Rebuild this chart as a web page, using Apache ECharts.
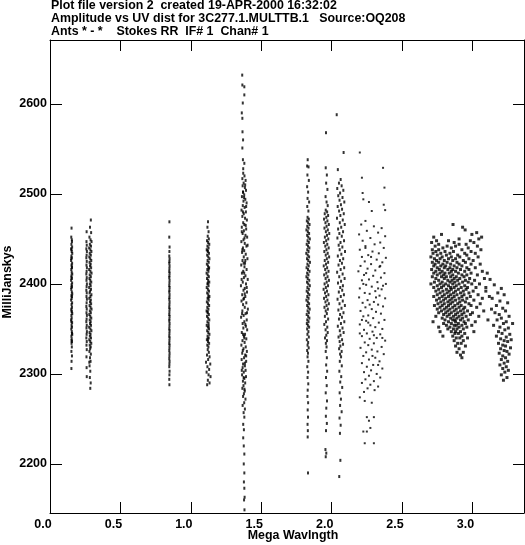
<!DOCTYPE html>
<html><head><meta charset="utf-8">
<script src="https://cdn.jsdelivr.net/npm/echarts@6/dist/echarts.min.js"></script>
<style>html,body{margin:0;padding:0;background:#fff}#c{width:525px;height:545px}</style>
</head><body><div id="c"></div>
<script>
const titleLines = [
  'Plot file version 2  created 19-APR-2000 16:32:02',
  'Amplitude vs UV dist for 3C277.1.MULTTB.1   Source:OQ208',
  'Ants * - *    Stokes RR  IF# 1  Chan# 1'
];
const xAxisName = 'Mega Wavlngth';
const yAxisName = 'MilliJanskys';
const xTicks = [0, 0.5, 1.0, 1.5, 2.0, 2.5, 3.0];
const yTicks = [2200, 2300, 2400, 2500, 2600];
const xRange = [0, 3.366];
const yRange = [2145.5, 2671];

const col1 = [[0.153,2462],[0.151,2452],[0.156,2447],[0.152,2444],[0.157,2441],[0.150,2439],[0.154,2436],[0.158,2434],[0.152,2431],[0.155,2429],[0.150,2426],[0.157,2423],[0.153,2421],[0.156,2418],[0.151,2416],[0.154,2413],[0.158,2411],[0.152,2409],[0.155,2406],[0.150,2404],[0.157,2401],[0.153,2399],[0.156,2397],[0.151,2394],[0.155,2391],[0.158,2389],[0.152,2387],[0.154,2384],[0.150,2382],[0.157,2379],[0.153,2377],[0.156,2374],[0.151,2372],[0.155,2369],[0.158,2367],[0.152,2365],[0.154,2362],[0.150,2360],[0.157,2357],[0.153,2354],[0.156,2352],[0.151,2350],[0.155,2347],[0.158,2344],[0.152,2342],[0.154,2339],[0.156,2336],[0.153,2334],[0.155,2330],[0.152,2325],[0.156,2320],[0.153,2314],[0.152,2306],[0.155,2449],[0.153,2438],[0.151,2428],[0.155,2419],[0.153,2407],[0.152,2396],[0.156,2386],[0.153,2370],[0.152,2358],[0.156,2345],[0.153,2337]];

const col2 = [[0.260,2458],[0.259,2447],[0.261,2443],[0.258,2439],[0.262,2436],[0.260,2432],[0.258,2429],[0.261,2425],[0.259,2421],[0.262,2418],[0.260,2414],[0.258,2411],[0.261,2407],[0.259,2404],[0.262,2400],[0.260,2397],[0.258,2393],[0.261,2390],[0.259,2386],[0.262,2383],[0.260,2379],[0.258,2375],[0.261,2372],[0.259,2368],[0.262,2365],[0.260,2361],[0.258,2358],[0.261,2354],[0.259,2351],[0.262,2347],[0.260,2344],[0.258,2340],[0.261,2336],[0.259,2332],[0.261,2327],[0.259,2319],[0.260,2307],[0.261,2297],
[0.290,2471],[0.284,2463],[0.292,2457],[0.280,2452],[0.288,2449],[0.295,2447],[0.283,2444],[0.291,2442],[0.278,2440],[0.287,2438],[0.294,2436],[0.282,2434],[0.290,2432],[0.279,2430],[0.286,2428],[0.293,2426],[0.281,2424],[0.289,2422],[0.284,2420],[0.292,2418],[0.278,2416],[0.287,2414],[0.295,2412],[0.282,2410],[0.290,2408],[0.280,2406],[0.286,2404],[0.293,2402],[0.283,2400],[0.289,2398],[0.278,2396],[0.291,2394],[0.285,2392],[0.281,2390],[0.294,2388],[0.287,2386],[0.279,2384],[0.290,2382],[0.284,2380],[0.292,2378],[0.281,2376],[0.288,2374],[0.295,2372],[0.283,2370],[0.290,2368],[0.279,2366],[0.286,2364],[0.293,2362],[0.282,2360],[0.289,2358],[0.284,2356],[0.291,2354],[0.278,2352],[0.287,2350],[0.294,2348],[0.281,2346],[0.288,2344],[0.283,2342],[0.291,2340],[0.279,2338],[0.286,2336],[0.293,2334],[0.282,2332],[0.289,2330],[0.285,2328],[0.280,2325],[0.290,2322],[0.284,2318],[0.288,2314],[0.279,2313],[0.281,2309],[0.286,2303],[0.283,2296],[0.289,2290],[0.286,2284]];

const col3 = [[0.848,2469],[0.847,2452],[0.849,2441],[0.848,2436],[0.847,2431],[0.849,2428],[0.848,2425],[0.847,2423],[0.849,2420],[0.848,2417],[0.847,2414],[0.849,2412],[0.848,2409],[0.847,2407],[0.849,2404],[0.848,2401],[0.847,2398],[0.849,2396],[0.848,2393],[0.847,2391],[0.849,2388],[0.848,2385],[0.847,2383],[0.849,2380],[0.848,2377],[0.847,2374],[0.849,2372],[0.848,2369],[0.847,2366],[0.849,2364],[0.848,2361],[0.847,2359],[0.849,2356],[0.848,2353],[0.847,2350],[0.849,2348],[0.848,2345],[0.847,2342],[0.849,2340],[0.848,2337],[0.847,2334],[0.849,2332],[0.848,2329],[0.847,2326],[0.849,2323],[0.848,2320],[0.847,2317],[0.849,2314],[0.848,2311],[0.847,2308],[0.849,2303],[0.848,2299],[0.847,2294],[0.848,2288]];

const col4 = [[1.122,2469],[1.118,2463],[1.126,2458],[1.120,2453],[1.128,2450],[1.115,2448],[1.123,2446],[1.131,2444],[1.118,2442],[1.126,2440],[1.113,2438],[1.121,2436],[1.129,2434],[1.116,2432],[1.124,2430],[1.132,2428],[1.119,2426],[1.127,2424],[1.114,2422],[1.122,2420],[1.130,2418],[1.117,2416],[1.125,2414],[1.112,2412],[1.120,2410],[1.128,2408],[1.115,2406],[1.123,2404],[1.131,2402],[1.118,2400],[1.126,2398],[1.113,2396],[1.121,2394],[1.129,2392],[1.116,2390],[1.124,2388],[1.132,2386],[1.119,2384],[1.127,2382],[1.114,2380],[1.122,2378],[1.130,2376],[1.117,2374],[1.125,2372],[1.112,2370],[1.120,2368],[1.128,2366],[1.115,2364],[1.123,2362],[1.131,2360],[1.118,2358],[1.126,2356],[1.113,2354],[1.121,2352],[1.129,2350],[1.116,2348],[1.124,2346],[1.132,2344],[1.119,2342],[1.127,2340],[1.114,2338],[1.122,2336],[1.130,2334],[1.117,2332],[1.125,2330],[1.120,2327],[1.128,2324],[1.115,2321],[1.133,2319],[1.123,2316],[1.108,2313],[1.138,2311],[1.118,2308],[1.130,2305],[1.112,2302],[1.126,2299],[1.140,2297],[1.121,2293],[1.133,2290],[1.116,2288],[1.119,2437],[1.127,2417],[1.121,2401],[1.125,2385],[1.119,2369],[1.127,2353],[1.121,2339]];

const col5 = [[1.365,2632],[1.366,2621],[1.380,2619],[1.380,2610],[1.369,2601],[1.362,2590],[1.366,2584],[1.367,2569],[1.371,2560],[1.366,2551],[1.370,2538],[1.380,2534],[1.372,2528],
[1.372,2523],[1.381,2520],[1.366,2517],[1.389,2515],[1.375,2512],[1.368,2509],[1.384,2507],[1.392,2504],[1.371,2502],[1.379,2499],[1.363,2497],[1.387,2494],[1.374,2492],[1.396,2490],[1.369,2487],[1.382,2485],[1.360,2482],[1.391,2480],[1.376,2478],[1.366,2475],[1.385,2473],[1.398,2471],[1.372,2468],[1.380,2466],[1.362,2463],[1.393,2461],[1.377,2459],[1.368,2456],[1.388,2454],[1.400,2452],[1.374,2449],[1.359,2447],[1.383,2445],[1.395,2442],[1.370,2440],[1.379,2437],[1.364,2435],[1.390,2433],[1.376,2430],[1.402,2428],[1.367,2426],[1.385,2423],[1.358,2421],[1.381,2419],[1.396,2416],[1.372,2414],[1.363,2412],[1.388,2409],[1.377,2407],[1.404,2405],[1.369,2402],[1.392,2400],[1.356,2398],[1.383,2395],[1.374,2393],[1.399,2391],[1.365,2388],[1.387,2386],[1.378,2384],[1.360,2381],[1.394,2379],[1.371,2377],[1.383,2374],[1.405,2372],[1.366,2370],[1.389,2367],[1.375,2365],[1.357,2363],[1.397,2360],[1.380,2358],[1.368,2356],[1.391,2353],[1.373,2351],[1.400,2349],[1.362,2346],[1.385,2344],[1.377,2342],[1.394,2339],[1.367,2337],[1.382,2335],[1.359,2332],[1.390,2330],[1.374,2328],[1.398,2325],[1.365,2323],[1.386,2321],[1.378,2318],[1.361,2316],[1.393,2314],[1.371,2311],[1.384,2309],[1.368,2307],[1.389,2304],[1.376,2302],[1.364,2299],[1.392,2297],[1.380,2295],[1.370,2292],[1.386,2290],[1.374,2287],[1.366,2284],[1.383,2281],[1.377,2278],[1.371,2275],[1.388,2272],[1.379,2268],[1.368,2265],[1.384,2261],[1.375,2257],
[1.386,2510],[1.378,2496],[1.370,2480],[1.390,2465],[1.381,2451],[1.366,2438],[1.387,2426],[1.379,2412],[1.397,2396],[1.373,2383],[1.364,2367],[1.387,2355],[1.380,2340],[1.369,2326],[1.384,2312],[1.375,2296],[1.381,2283],[1.371,2502],[1.393,2486],[1.362,2458],[1.403,2443],[1.375,2423],[1.361,2405],[1.383,2389],[1.399,2368],[1.371,2344],[1.393,2320],[1.362,2304],
[1.380,2252],[1.372,2244],[1.377,2238],[1.372,2229],[1.376,2220],[1.380,2211],[1.376,2200],[1.380,2190],[1.377,2180],[1.380,2173],[1.382,2163],[1.378,2160],[1.381,2149]];

const col6 = [[1.830,2538],[1.826,2531],[1.836,2530],[1.828,2521],[1.838,2515],[1.826,2508],[1.833,2502],[1.829,2495],[1.840,2491],[1.827,2486],[1.835,2481],
[1.829,2474],[1.838,2472],[1.824,2470],[1.833,2468],[1.843,2466],[1.827,2464],[1.836,2462],[1.821,2460],[1.831,2458],[1.840,2456],[1.826,2454],[1.834,2452],[1.845,2450],[1.829,2448],[1.838,2446],[1.823,2444],[1.832,2442],[1.842,2440],[1.827,2438],[1.836,2436],[1.820,2434],[1.830,2432],[1.840,2430],[1.825,2428],[1.834,2426],[1.846,2424],[1.828,2422],[1.837,2420],[1.822,2418],[1.832,2416],[1.843,2414],[1.826,2412],[1.835,2410],[1.821,2408],[1.830,2406],[1.841,2404],[1.825,2402],[1.834,2400],[1.845,2398],[1.828,2396],[1.838,2394],[1.823,2392],[1.832,2390],[1.842,2388],[1.827,2386],[1.836,2384],[1.821,2382],[1.831,2380],[1.840,2378],[1.826,2376],[1.834,2374],[1.844,2372],[1.829,2370],[1.838,2368],[1.823,2366],[1.833,2364],[1.842,2362],[1.827,2360],[1.836,2358],[1.824,2356],[1.831,2354],[1.840,2352],[1.826,2350],[1.835,2347],[1.828,2344],[1.838,2341],[1.824,2338],[1.833,2335],[1.829,2332],[1.837,2329],[1.826,2326],[1.832,2323],
[1.829,2319],[1.835,2314],[1.827,2308],[1.833,2302],[1.829,2296],[1.834,2289],[1.830,2282],[1.828,2275],[1.833,2268],[1.830,2260],[1.832,2252],[1.829,2244],[1.831,2237],[1.830,2230],[1.832,2190]];

const col7 = [[1.960,2568],[1.958,2529],[1.966,2521],[1.961,2512],[1.970,2505],[1.957,2497],[1.964,2491],[1.972,2487],
[1.958,2482],[1.968,2480],[1.951,2478],[1.975,2476],[1.962,2474],[1.946,2472],[1.970,2470],[1.956,2468],[1.980,2466],[1.964,2464],[1.949,2462],[1.973,2460],[1.959,2458],[1.983,2456],[1.967,2454],[1.952,2452],[1.976,2450],[1.961,2448],[1.945,2446],[1.969,2444],[1.955,2442],[1.979,2440],[1.963,2438],[1.948,2436],[1.972,2434],[1.958,2432],[1.982,2430],[1.966,2428],[1.951,2426],[1.975,2424],[1.960,2422],[1.944,2420],[1.968,2418],[1.954,2416],[1.978,2414],[1.962,2412],[1.947,2410],[1.971,2408],[1.957,2406],[1.981,2404],[1.965,2402],[1.950,2400],[1.974,2398],[1.959,2396],[1.943,2394],[1.967,2392],[1.953,2390],[1.977,2388],[1.961,2386],[1.946,2384],[1.970,2382],[1.956,2380],[1.980,2378],[1.964,2376],[1.949,2374],[1.973,2372],[1.958,2370],[1.966,2367],[1.952,2364],[1.975,2361],[1.960,2358],[1.948,2355],[1.969,2352],[1.957,2349],[1.972,2346],[1.962,2343],[1.953,2340],[1.967,2337],[1.959,2334],[1.964,2330],
[1.958,2325],[1.966,2318],[1.961,2310],[1.968,2303],[1.960,2296],[1.965,2287],[1.958,2279],[1.967,2270],[1.962,2262],[1.959,2253],[1.966,2245],[1.960,2237],[1.956,2216],[1.962,2212],[1.958,2208]];

const col8 = [[2.036,2588],[2.085,2546],[2.044,2527],[2.064,2516],
[2.052,2512],[2.071,2509],[2.040,2506],[2.083,2504],[2.060,2501],[2.047,2498],[2.077,2496],[2.056,2493],[2.090,2491],[2.066,2488],[2.043,2486],[2.074,2483],[2.053,2481],[2.086,2478],[2.062,2476],[2.038,2473],[2.079,2471],[2.058,2468],[2.093,2466],[2.068,2463],[2.046,2461],[2.081,2458],[2.055,2456],[2.072,2453],[2.041,2451],[2.088,2448],[2.063,2446],[2.050,2443],[2.076,2441],[2.057,2438],[2.095,2436],[2.069,2433],[2.044,2431],[2.082,2428],[2.059,2426],[2.073,2423],[2.049,2421],[2.089,2418],[2.064,2416],[2.039,2413],[2.078,2411],[2.054,2408],[2.092,2406],[2.067,2403],[2.045,2401],[2.080,2398],[2.061,2396],[2.075,2393],[2.051,2391],[2.087,2388],[2.065,2386],[2.042,2383],[2.079,2381],[2.056,2378],[2.094,2376],[2.070,2373],[2.048,2371],[2.084,2368],[2.060,2366],[2.073,2363],[2.052,2361],[2.090,2358],[2.066,2356],[2.044,2353],[2.077,2351],[2.058,2348],[2.085,2346],[2.063,2343],[2.049,2341],[2.074,2338],[2.057,2336],[2.081,2333],[2.062,2331],[2.053,2328],[2.071,2325],[2.060,2322],[2.067,2319],
[2.058,2314],[2.072,2309],[2.055,2303],[2.068,2297],[2.061,2291],[2.075,2285],[2.057,2279],[2.066,2272],[2.060,2265],[2.071,2258],[2.056,2251],[2.064,2243],[2.059,2234],[2.062,2204],[2.054,2186]];

const col9 = [[2.200,2546],[2.365,2529],[2.215,2518],[2.375,2507],[2.220,2501],[2.225,2494],[2.265,2491],[2.285,2481],[2.370,2488],[2.380,2482],[2.240,2470],
[2.210,2466],[2.300,2464],[2.355,2462],[2.250,2459],[2.330,2457],[2.195,2455],[2.380,2453],[2.275,2451],[2.220,2448],[2.345,2446],[2.305,2444],[2.240,2442],[2.370,2440],[2.200,2438],[2.290,2436],[2.335,2434],[2.260,2432],[2.215,2430],[2.385,2429],[2.320,2427],[2.235,2425],[2.360,2424],[2.280,2422],[2.205,2420],[2.340,2419],[2.255,2417],[2.310,2415],[2.190,2414],[2.375,2412],[2.230,2410],[2.295,2409],[2.350,2407],[2.265,2405],[2.215,2404],[2.325,2402],[2.385,2400],[2.245,2399],[2.285,2397],[2.200,2395],[2.355,2394],[2.310,2392],[2.235,2390],[2.270,2389],[2.340,2387],[2.195,2385],[2.380,2384],[2.255,2382],[2.300,2380],[2.220,2379],[2.330,2377],[2.365,2375],[2.240,2374],[2.285,2372],[2.205,2370],[2.315,2369],[2.350,2367],[2.260,2365],[2.225,2364],[2.295,2362],[2.375,2360],[2.245,2359],[2.335,2357],[2.200,2355],[2.275,2354],[2.310,2352],[2.360,2350],[2.230,2349],[2.290,2347],[2.250,2345],[2.345,2344],[2.215,2342],[2.320,2340],[2.270,2339],[2.380,2337],[2.235,2335],[2.300,2334],[2.260,2332],[2.355,2330],[2.205,2329],[2.285,2327],[2.325,2325],[2.245,2324],[2.370,2322],[2.225,2320],[2.310,2318],[2.265,2316],[2.340,2314],[2.215,2312],[2.295,2310],[2.250,2308],[2.360,2306],[2.280,2304],[2.230,2302],[2.320,2300],[2.265,2298],[2.345,2296],[2.240,2294],[2.300,2292],[2.215,2290],[2.275,2288],[2.330,2286],[2.255,2284],[2.305,2282],[2.230,2280],
[2.280,2430],[2.245,2412],[2.330,2395],[2.270,2377],[2.215,2360],[2.300,2343],[2.345,2420],[2.225,2400],[2.315,2385],[2.260,2357],[2.290,2320],[2.360,2340],[2.200,2345],[2.330,2310],[2.240,2440],[2.365,2398],
[2.200,2274],[2.235,2270],[2.285,2268],[2.250,2252],[2.265,2248],[2.300,2252],[2.225,2236],[2.250,2236],[2.275,2240],[2.235,2223],[2.300,2223]];

const blob = [[2.862,2466],[2.930,2463],[2.948,2460],[3.030,2457],[2.780,2455],[2.996,2455],[2.725,2452],[3.065,2452],[2.905,2450],[3.045,2450],
[2.745,2448],[2.830,2448],[2.985,2448],[2.710,2446],[2.870,2446],[3.010,2446],[2.760,2444],[2.905,2444],[2.955,2444],
[2.735,2442],[2.820,2442],[2.880,2442],[3.035,2442],[2.790,2440],[2.850,2440],[2.970,2440],
[2.715,2438],[2.760,2438],[2.925,2438],[3.060,2438],[2.740,2436],[2.805,2436],[2.865,2436],[2.990,2436],
[2.720,2434],[2.775,2434],[2.840,2434],[2.945,2434],[3.020,2434],[2.750,2432],[2.815,2432],[2.895,2432],[2.960,2432],
[2.705,2430],[2.785,2430],[2.850,2430],[2.910,2430],[3.040,2430],[2.730,2428],[2.770,2428],[2.830,2428],[2.880,2428],[2.975,2428],
[2.745,2426],[2.800,2426],[2.860,2426],[2.935,2426],[3.005,2426],[2.715,2424],[2.760,2424],[2.820,2424],[2.890,2424],[2.950,2424],
[2.735,2422],[2.790,2422],[2.845,2422],[2.905,2422],[2.990,2422],[3.055,2422],[2.725,2420],[2.775,2420],[2.810,2420],[2.870,2420],[2.925,2420],
[2.750,2418],[2.800,2418],[2.840,2418],[2.890,2418],[2.960,2418],[3.020,2418],[2.710,2416],[2.765,2416],[2.825,2416],[2.860,2416],[2.915,2416],[2.975,2416],
[2.740,2414],[2.785,2414],[2.850,2414],[2.880,2414],[2.945,2414],[3.070,2414],[2.725,2412],[2.770,2412],[2.805,2412],[2.835,2412],[2.900,2412],[2.990,2412],
[2.750,2410],[2.795,2410],[2.860,2410],[2.925,2410],[2.960,2410],[3.035,2410],[2.715,2408],[2.780,2408],[2.815,2408],[2.845,2408],[2.885,2408],[2.940,2408],
[2.740,2406],[2.800,2406],[2.870,2406],[2.910,2406],[2.980,2406],[3.085,2406],[2.760,2404],[2.825,2404],[2.855,2404],[2.895,2404],[2.950,2404],[3.015,2404],
[2.730,2402],[2.785,2402],[2.840,2402],[2.875,2402],[2.930,2402],[2.970,2402],[2.705,2400],[2.770,2400],[2.810,2400],[2.860,2400],[2.905,2400],[2.995,2400],[3.050,2400],
[2.750,2398],[2.795,2398],[2.830,2398],[2.885,2398],[2.945,2398],[2.725,2396],[2.780,2396],[2.845,2396],[2.870,2396],[2.920,2396],[2.965,2396],[3.025,2396],
[2.760,2394],[2.815,2394],[2.850,2394],[2.900,2394],[2.955,2394],[2.740,2392],[2.790,2392],[2.835,2392],[2.880,2392],[2.935,2392],[3.005,2392],[3.095,2392],
[2.770,2390],[2.820,2390],[2.865,2390],[2.915,2390],[2.975,2390],[2.750,2388],[2.800,2388],[2.845,2388],[2.890,2388],[2.940,2388],[3.040,2388],
[2.725,2386],[2.785,2386],[2.830,2386],[2.870,2386],[2.925,2386],[2.985,2386],[2.765,2384],[2.810,2384],[2.855,2384],[2.905,2384],[2.960,2384],[3.070,2384],
[2.745,2382],[2.795,2382],[2.840,2382],[2.880,2382],[2.930,2382],[3.010,2382],[2.775,2380],[2.825,2380],[2.860,2380],[2.910,2380],[2.950,2380],
[2.755,2378],[2.800,2378],[2.845,2378],[2.895,2378],[2.975,2378],[3.055,2378],[2.730,2376],[2.785,2376],[2.830,2376],[2.875,2376],[2.920,2376],[2.990,2376],
[2.770,2374],[2.815,2374],[2.860,2374],[2.905,2374],[2.945,2374],[3.030,2374],[2.750,2372],[2.800,2372],[2.840,2372],[2.885,2372],[2.935,2372],
[2.780,2370],[2.825,2370],[2.870,2370],[2.915,2370],[2.965,2370],[3.080,2370],[2.760,2368],[2.810,2368],[2.850,2368],[2.895,2368],[2.940,2368],[3.000,2368],
[2.795,2366],[2.835,2366],[2.880,2366],[2.925,2366],[2.985,2366],[2.740,2364],[2.820,2364],[2.865,2364],[2.905,2364],[2.955,2364],[3.045,2364],
[2.785,2362],[2.845,2362],[2.890,2362],[2.930,2362],[2.805,2360],[2.860,2360],[2.875,2360],[2.915,2360],[2.970,2360],
[2.720,2358],[2.830,2358],[2.880,2358],[2.940,2358],[3.020,2358],[2.795,2356],[2.850,2356],[2.900,2356],[2.950,2356],
[2.815,2354],[2.870,2354],[2.885,2354],[2.925,2354],[2.995,2354],[2.760,2352],[2.840,2352],[2.905,2352],[2.960,2352],
[2.825,2350],[2.865,2350],[2.890,2350],[2.935,2350],[2.770,2347],[2.850,2347],[2.880,2347],[2.915,2347],[3.010,2347],
[2.875,2345],[2.900,2345],[2.945,2345],[2.790,2342],[2.860,2342],[2.925,2342],[2.885,2340],[2.910,2340],[2.965,2340],
[2.870,2337],[2.935,2337],[2.895,2334],[2.920,2334],[2.880,2331],[2.950,2331],[2.905,2328],[2.890,2324],[2.935,2324],[2.915,2321],[2.925,2318]];

const tail = [[3.155,2399],[3.205,2395],[3.180,2390],[3.225,2388],[3.140,2384],[3.195,2381],[3.250,2379],[3.170,2376],[3.215,2373],[3.235,2370],[3.160,2368],[3.190,2366],[3.260,2364],[3.205,2362],[3.175,2360],[3.240,2358],[3.220,2356],[3.150,2354],[3.195,2352],[3.255,2351],[3.230,2349],[3.185,2347],[3.210,2345],[3.265,2344],[3.170,2342],[3.240,2341],[3.200,2339],[3.225,2337],[3.250,2336],[3.185,2334],[3.215,2332],[3.235,2331],[3.270,2329],[3.200,2328],[3.225,2326],[3.245,2325],[3.190,2323],[3.260,2322],[3.215,2320],[3.235,2318],[3.205,2316],[3.250,2314],[3.225,2312],[3.195,2310],[3.240,2308],[3.215,2306],[3.255,2304],[3.230,2302],[3.205,2299],[3.245,2296],[3.220,2293],
[3.105,2412],[3.125,2405],[3.095,2396],[3.135,2372],[3.110,2360],[3.120,2386],[3.285,2356],[3.275,2338]];

const FONT = '"Liberation Sans", Arial, Helvetica, sans-serif';
const columnPoints = [].concat(col1, col2, col3, col4, col5, col6, col7, col8);
const cloudPoints = [].concat(col9);
const blobPoints = [].concat(blob, tail);

const chart = echarts.init(document.getElementById('c'), null, {renderer: 'canvas'});
const axisLine = {show: true, onZero: false, lineStyle: {color: '#000', width: 1}};
const labelStyle = {color: '#000', fontFamily: FONT, fontWeight: 'bold', fontSize: 12.5};
const titleFont = 'bold 12.4px ' + FONT;
const option = {
  animation: false,
  backgroundColor: '#fff',
  grid: {left: 50, top: 40, right: 1, bottom: 32, containLabel: false},
  xAxis: [
    {type: 'value', min: xRange[0], max: xRange[1], position: 'bottom', axisLine: axisLine,
     axisTick: {show: true, inside: true, length: 11, customValues: xTicks, lineStyle: {color: '#000'}},
     axisLabel: Object.assign({customValues: xTicks, margin: 5, padding: [0, 14, 0, 0], formatter: v => v.toFixed(1)}, labelStyle),
     splitLine: {show: false}},
    {type: 'value', min: xRange[0], max: xRange[1], position: 'top', axisLine: axisLine,
     axisTick: {show: true, inside: true, length: 11, customValues: xTicks, lineStyle: {color: '#000'}},
     axisLabel: {show: false}, splitLine: {show: false}}
  ],
  yAxis: [
    {type: 'value', min: yRange[0], max: yRange[1], position: 'left', axisLine: axisLine,
     axisTick: {show: true, inside: true, length: 12, customValues: yTicks, lineStyle: {color: '#000'}},
     axisLabel: Object.assign({customValues: yTicks, margin: 3, formatter: v => String(Math.round(v))}, labelStyle),
     splitLine: {show: false}},
    {type: 'value', min: yRange[0], max: yRange[1], position: 'right', axisLine: axisLine,
     axisTick: {show: true, inside: true, length: 11, customValues: yTicks, lineStyle: {color: '#000'}},
     axisLabel: {show: false}, splitLine: {show: false}}
  ],
  series: [
    {type: 'scatter', xAxisIndex: 0, yAxisIndex: 0, symbol: 'rect', symbolSize: [2, 3],
     itemStyle: {color: '#000'}, data: columnPoints, silent: true},
    {type: 'scatter', xAxisIndex: 0, yAxisIndex: 0, symbol: 'rect', symbolSize: 2,
     itemStyle: {color: '#000'}, data: cloudPoints, silent: true},
    {type: 'scatter', xAxisIndex: 0, yAxisIndex: 0, symbol: 'rect', symbolSize: 3,
     itemStyle: {color: '#000'}, data: blobPoints, silent: true}
  ],
  graphic: [
    {type: 'text', left: 51, top: 0, style: {text: titleLines[0], font: titleFont, fill: '#000'}},
    {type: 'text', left: 51, top: 13, style: {text: titleLines[1], font: titleFont, fill: '#000'}},
    {type: 'text', left: 51, top: 26, style: {text: titleLines[2], font: titleFont, fill: '#000'}},
    {type: 'text', x: 293, y: 536, style: {text: xAxisName, font: titleFont, fill: '#000', align: 'center', verticalAlign: 'middle'}},
    {type: 'text', x: 8, y: 282, rotation: Math.PI / 2, style: {text: yAxisName, font: titleFont, fill: '#000', align: 'center', verticalAlign: 'middle'}}
  ]
};
chart.setOption(option);
</script>
</body></html>
